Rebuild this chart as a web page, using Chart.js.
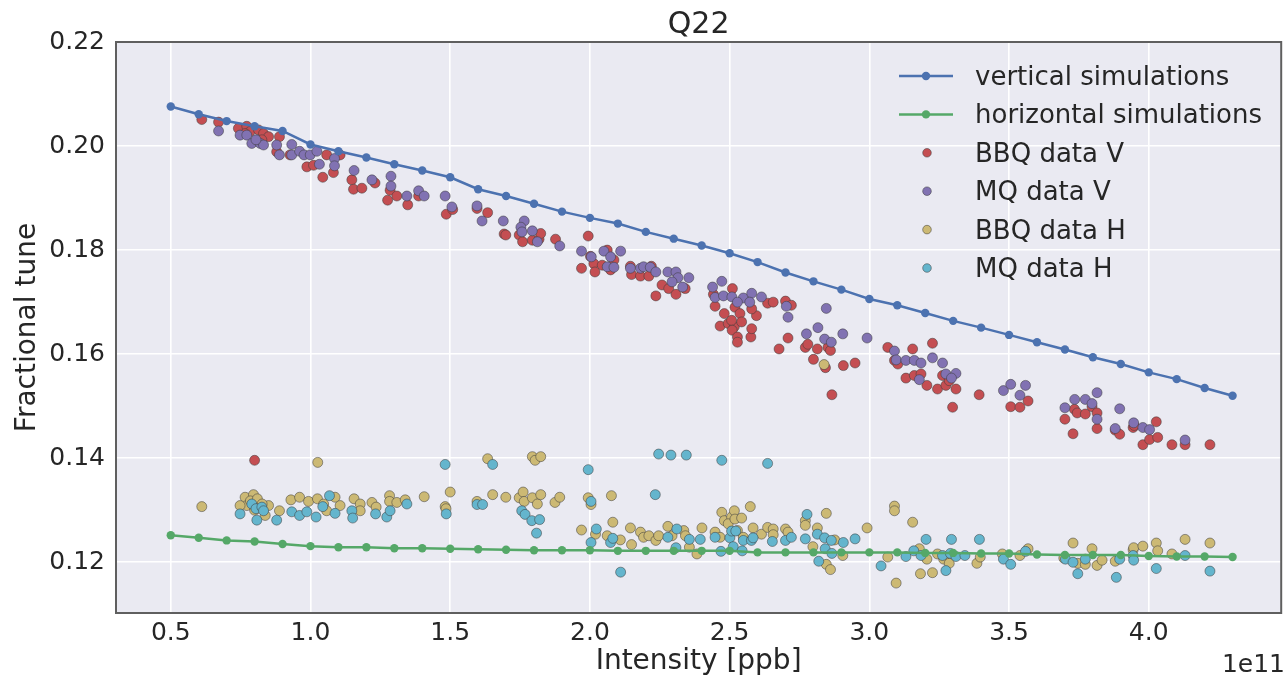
<!DOCTYPE html>
<html lang="en">
<head>
    <meta charset="UTF-8">
    <title>Q22 tune vs intensity</title>
    <script src="https://cdn.jsdelivr.net/npm/chart.js"></script>
    <style>
      body { margin: 0; background: #fff; }
      canvas { display: block; }
    </style>
</head>
<body>
    <canvas id="tuneChart" width="1287" height="679" style="width:1287px;height:679px"></canvas>
    <script>
      // intensity in units of 1e11 ppb
      const simIntensity = [0.5, 0.6, 0.7, 0.8, 0.9, 1.0, 1.1, 1.2, 1.3, 1.4, 1.5, 1.6, 1.7, 1.8, 1.9, 2.0,
        2.1, 2.2, 2.3, 2.4, 2.5, 2.6, 2.7, 2.8, 2.9, 3.0, 3.1, 3.2, 3.3, 3.4, 3.5, 3.6, 3.7, 3.8, 3.9, 4.0,
        4.1, 4.2, 4.3];
      const vertSim = [0.2076, 0.2061, 0.2048, 0.2038, 0.2029, 0.2003, 0.1990, 0.1978, 0.1965, 0.1953, 0.1940,
        0.1917, 0.1904, 0.1889, 0.1874, 0.1862, 0.1851, 0.1835, 0.1822, 0.1809, 0.1794, 0.1777, 0.1757, 0.1740,
        0.1724, 0.1706, 0.1694, 0.1679, 0.1664, 0.1651, 0.1637, 0.1623, 0.1609, 0.1594, 0.1581, 0.1565, 0.1552,
        0.1535, 0.1520];
      const horSim = [0.1252, 0.1247, 0.1242, 0.1240, 0.1235, 0.1231, 0.1229, 0.1229, 0.1227, 0.1227, 0.1226,
        0.1225, 0.1224, 0.1223, 0.1223, 0.1223, 0.1222, 0.1222, 0.1222, 0.1222, 0.1222, 0.1219, 0.1219, 0.1219,
        0.1219, 0.1219, 0.1219, 0.1218, 0.1218, 0.1217, 0.1217, 0.1215, 0.1214, 0.1214, 0.1214, 0.1212, 0.1211,
        0.1211, 0.1210];

      // measured tunes, [intensity, tune]
      const bbqV = [[0.611,0.2051],[0.671,0.2046],[0.742,0.2034],[0.772,0.2038],[0.784,0.2028],[0.814,0.2031],
        [0.832,0.2024],[0.850,0.2018],[0.826,0.2012],[0.766,0.2024],[0.879,0.1989],[0.889,0.2018],[0.927,0.1983],
        [0.987,0.1960],[1.011,0.1963],[1.044,0.1940],[1.058,0.1983],[1.082,0.1949],[1.106,0.1983],[1.148,0.1935],
        [1.154,0.1917],[1.184,0.1919],[1.231,0.1929],[1.276,0.1896],[1.285,0.1915],[1.309,0.1904],[1.348,0.1887],
        [1.387,0.1904],[1.486,0.1869],[1.509,0.1878],[1.596,0.1880],[1.634,0.1872],[1.693,0.1831],[1.699,0.1829],
        [1.747,0.1829],[1.759,0.1816],[1.794,0.1819],[1.818,0.1821],[1.824,0.1832],[1.877,0.1821],[1.994,0.1827],
        [1.970,0.1765],[2.002,0.1788],[2.014,0.1774],[2.018,0.1758],[2.044,0.1771],[2.062,0.1800],[2.074,0.1762],
        [2.086,0.1781],[2.145,0.1769],[2.149,0.1753],[2.181,0.1750],[2.211,0.1750],[2.220,0.1769],[2.258,0.1733],
        [2.282,0.1726],[2.236,0.1712],[2.308,0.1715],[2.341,0.1726],[2.442,0.1715],[2.448,0.1692],[2.481,0.1678],
        [2.510,0.1726],[2.466,0.1654],[2.495,0.1659],[2.517,0.1653],[2.519,0.1690],[2.537,0.1678],[2.507,0.1665],
        [2.543,0.1662],[2.509,0.1646],[2.528,0.1633],[2.528,0.1623],[2.576,0.1633],[2.579,0.1649],[2.596,0.1674],
        [2.579,0.1687],[2.636,0.1698],[2.656,0.1700],[2.700,0.1702],[2.721,0.1694],[2.709,0.1631],[2.677,0.1610],
        [2.771,0.1613],[2.780,0.1619],[2.814,0.1610],[2.852,0.1613],[2.861,0.1607],[2.800,0.1590],[2.843,0.1574],
        [2.907,0.1578],[2.949,0.1583],[2.866,0.1522],[3.066,0.1613],[3.155,0.1610],[3.226,0.1621],[3.090,0.1588],
        [3.102,0.1581],[3.131,0.1554],[3.161,0.1559],[3.185,0.1562],[3.206,0.1540],[3.244,0.1533],[3.262,0.1559],
        [3.274,0.1540],[3.286,0.1549],[3.310,0.1533],[3.298,0.1498],[3.393,0.1522],[3.506,0.1499],[3.539,0.1498],
        [3.568,0.1510],[3.700,0.1475],[3.729,0.1447],[3.734,0.1494],[3.744,0.1487],[3.773,0.1485],[3.797,0.1499],
        [3.815,0.1487],[3.815,0.1457],[3.880,0.1454],[3.896,0.1446],[3.944,0.1459],[3.948,0.1463],[3.979,0.1426],
        [4.003,0.1436],[4.027,0.1470],[4.032,0.1440],[4.083,0.1426],[4.130,0.1426],[4.219,0.1426],[0.800,0.1396]];
      const mqV = [[0.671,0.2029],[0.748,0.2021],[0.772,0.2021],[0.790,0.2005],[0.820,0.2005],[0.832,0.2002],
        [0.805,0.2012],[0.879,0.2002],[0.889,0.1983],[0.933,0.2003],[0.933,0.1983],[0.961,0.1990],[0.977,0.1983],
        [0.999,0.1983],[1.023,0.1990],[1.032,0.1965],[1.086,0.1976],[1.086,0.1962],[1.156,0.1953],[1.220,0.1935],
        [1.288,0.1942],[1.288,0.1923],[1.345,0.1904],[1.387,0.1914],[1.407,0.1904],[1.482,0.1904],[1.506,0.1883],
        [1.596,0.1885],[1.614,0.1856],[1.690,0.1856],[1.765,0.1856],[1.753,0.1844],[1.757,0.1835],[1.794,0.1837],
        [1.812,0.1816],[1.892,0.1808],[1.970,0.1798],[2.005,0.1787],[2.050,0.1798],[2.074,0.1787],[2.110,0.1798],
        [2.062,0.1768],[2.086,0.1767],[2.145,0.1765],[2.181,0.1765],[2.192,0.1768],[2.216,0.1767],[2.236,0.1758],
        [2.279,0.1758],[2.308,0.1758],[2.315,0.1747],[2.294,0.1739],[2.332,0.1729],[2.354,0.1747],[2.439,0.1729],
        [2.472,0.1740],[2.448,0.1709],[2.478,0.1712],[2.508,0.1710],[2.549,0.1708],[2.579,0.1717],[2.614,0.1710],
        [2.528,0.1700],[2.572,0.1700],[2.703,0.1692],[2.709,0.1671],[2.846,0.1688],[2.775,0.1639],[2.816,0.1651],
        [2.840,0.1629],[2.864,0.1623],[2.905,0.1639],[2.992,0.1631],[3.090,0.1606],[3.096,0.1589],[3.131,0.1588],
        [3.161,0.1588],[3.185,0.1583],[3.226,0.1593],[3.262,0.1583],[3.274,0.1562],[3.310,0.1563],[3.294,0.1554],
        [3.179,0.1551],[3.480,0.1530],[3.506,0.1542],[3.539,0.1521],[3.559,0.1540],[3.700,0.1497],[3.735,0.1513],
        [3.773,0.1513],[3.797,0.1505],[3.815,0.1526],[3.815,0.1475],[3.896,0.1495],[3.880,0.1457],[3.946,0.1468],
        [3.979,0.1459],[4.003,0.1455],[4.130,0.1435]];
      const bbqH = [[1.026,0.1392],[0.611,0.1307],[0.766,0.1325],[0.796,0.1330],[0.772,0.1309],[0.748,0.1309],
        [0.850,0.1309],[0.838,0.1290],[0.889,0.1299],[0.930,0.1320],[0.961,0.1325],[0.993,0.1317],[1.025,0.1322],
        [1.047,0.1312],[1.058,0.1299],[1.088,0.1325],[1.106,0.1309],[1.156,0.1322],[1.178,0.1312],[1.178,0.1299],
        [1.220,0.1315],[1.235,0.1306],[1.283,0.1328],[1.283,0.1317],[1.309,0.1315],[1.339,0.1320],[1.407,0.1326],
        [1.482,0.1307],[1.500,0.1335],[0.785,0.1318],[0.810,0.1322],[0.800,0.1300],[0.827,0.1312],[1.485,0.1303],
        [1.596,0.1317],[1.634,0.1399],[1.652,0.1330],[1.699,0.1325],[1.747,0.1324],[1.761,0.1335],[1.765,0.1317],
        [1.794,0.1403],[1.804,0.1396],[1.824,0.1403],[1.794,0.1324],[1.812,0.1312],[1.824,0.1330],[1.875,0.1315],
        [1.892,0.1325],[1.970,0.1262],[1.994,0.1324],[2.004,0.1311],[2.020,0.1254],[2.062,0.1251],[2.077,0.1328],
        [2.082,0.1277],[2.109,0.1243],[2.145,0.1266],[2.149,0.1234],[2.181,0.1258],[2.192,0.1248],[2.211,0.1251],
        [2.236,0.1242],[2.246,0.1251],[2.279,0.1269],[2.294,0.1251],[2.336,0.1261],[2.342,0.1251],[2.356,0.1229],
        [2.383,0.1216],[2.401,0.1266],[2.448,0.1258],[2.466,0.1248],[2.472,0.1296],[2.481,0.1280],[2.507,0.1287],
        [2.517,0.1299],[2.495,0.1274],[2.519,0.1283],[2.543,0.1285],[2.574,0.1307],[2.528,0.1261],[2.549,0.1248],
        [2.584,0.1266],[2.614,0.1254],[2.636,0.1267],[2.656,0.1264],[2.656,0.1253],[2.700,0.1264],[2.709,0.1258],
        [2.771,0.1280],[2.771,0.1271],[2.814,0.1266],[2.846,0.1294],[2.798,0.1230],[2.876,0.1243],[2.905,0.1213],
        [2.846,0.1196],[2.861,0.1186],[2.992,0.1266],[3.090,0.1308],[3.090,0.1299],[3.155,0.1277],[3.066,0.1210],
        [3.179,0.1226],[3.206,0.1206],[3.183,0.1178],[3.226,0.1180],[3.096,0.1160],[3.244,0.1216],[3.266,0.1206],
        [3.286,0.1198],[3.385,0.1198],[3.397,0.1210],[3.476,0.1216],[3.539,0.1213],[2.838,0.1580],[3.568,0.1226],
        [3.696,0.1208],[3.729,0.1237],[3.746,0.1198],[3.773,0.1196],[3.797,0.1226],[3.815,0.1194],[3.833,0.1204],
        [3.880,0.1202],[3.944,0.1224],[3.946,0.1228],[3.979,0.1231],[4.027,0.1237],[4.032,0.1222],[4.083,0.1216],
        [4.130,0.1244],[4.219,0.1237]];
      const mqH = [[0.748,0.1293],[0.790,0.1312],[0.808,0.1281],[0.805,0.1303],[0.826,0.1306],[0.832,0.1299],
        [0.879,0.1281],[0.933,0.1297],[0.961,0.1290],[0.987,0.1297],[1.020,0.1287],[1.044,0.1307],[1.068,0.1328],
        [1.088,0.1294],[1.148,0.1299],[1.151,0.1285],[1.233,0.1293],[1.273,0.1287],[1.285,0.1299],[1.345,0.1312],
        [1.482,0.1388],[1.486,0.1293],[1.596,0.1311],[1.616,0.1311],[1.652,0.1388],[1.756,0.1299],[1.768,0.1292],
        [1.792,0.1280],[1.820,0.1282],[1.809,0.1256],[1.994,0.1378],[2.004,0.1317],[2.023,0.1264],[2.004,0.1238],
        [2.074,0.1238],[2.082,0.1246],[2.110,0.1181],[2.234,0.1330],[2.246,0.1408],[2.290,0.1406],[2.345,0.1406],
        [2.279,0.1248],[2.311,0.1264],[2.308,0.1228],[2.356,0.1244],[2.395,0.1244],[2.472,0.1396],[2.448,0.1248],
        [2.469,0.1221],[2.501,0.1247],[2.507,0.1260],[2.513,0.1230],[2.522,0.1260],[2.636,0.1390],[2.545,0.1222],
        [2.549,0.1242],[2.578,0.1242],[2.584,0.1247],[2.653,0.1240],[2.700,0.1242],[2.721,0.1248],[2.771,0.1245],
        [2.777,0.1292],[2.814,0.1254],[2.840,0.1247],[2.842,0.1226],[2.864,0.1242],[2.866,0.1217],[2.819,0.1202],
        [2.907,0.1238],[2.949,0.1245],[3.042,0.1193],[3.131,0.1211],[3.159,0.1222],[3.203,0.1244],[3.185,0.1213],
        [3.274,0.1184],[3.294,0.1244],[3.262,0.1213],[3.290,0.1217],[3.310,0.1211],[3.342,0.1213],[3.394,0.1244],
        [3.480,0.1206],[3.506,0.1196],[3.559,0.1221],[3.702,0.1206],[3.729,0.1200],[3.746,0.1178],[3.773,0.1206],
        [3.884,0.1171],[3.896,0.1206],[3.944,0.1213],[3.946,0.1204],[4.027,0.1188],[4.130,0.1213],[4.219,0.1183]];

      const xTicks = [0.5, 1.0, 1.5, 2.0, 2.5, 3.0, 3.5, 4.0];
      const yTicks = [0.12, 0.14, 0.16, 0.18, 0.20, 0.22];

      const FONT = 'DejaVu Sans';
      const TEXT = '#262626';

      const toPts = (xs, ys) => xs.map((x, i) => ({x: x, y: ys[i]}));
      const pairs = arr => arr.map(p => ({x: p[0], y: p[1]}));

      function simSet(label, color, ys) {
        return {
          label: label, data: toPts(simIntensity, ys), showLine: true,
          borderColor: color, backgroundColor: color, borderWidth: 2.5,
          pointRadius: 4.2, pointBorderWidth: 0, order: 0
        };
      }
      function dataSet(label, color, pts, order) {
        return {
          label: label, data: pairs(pts), backgroundColor: color,
          borderColor: 'rgba(60,60,60,0.65)', borderWidth: 0.8, pointRadius: 5, order: order
        };
      }

      // axes background, frame, title, offset text and legend
      const decor = {
        id: 'decor',
        beforeDraw(chart) {
          const {ctx, chartArea: a} = chart;
          ctx.save();
          ctx.fillStyle = '#EAEAF2';
          ctx.fillRect(a.left, a.top, a.right - a.left, a.bottom - a.top);
          ctx.restore();
        },
        afterDraw(chart) {
          const {ctx, chartArea: a} = chart;
          ctx.save();
          ctx.strokeStyle = '#5f5f5f';
          ctx.lineWidth = 2;
          ctx.strokeRect(a.left, a.top, a.right - a.left, a.bottom - a.top);

          ctx.fillStyle = TEXT;
          ctx.font = '30px "' + FONT + '"';
          ctx.textAlign = 'center';
          ctx.textBaseline = 'alphabetic';
          ctx.fillText('Q22', (a.left + a.right) / 2, 33);

          ctx.font = '25px "' + FONT + '"';
          ctx.textAlign = 'right';
          ctx.fillText('1e11', 1285, 672);

          // legend
          ctx.font = '26px "' + FONT + '"';
          ctx.textAlign = 'left';
          chart.data.datasets.forEach((ds, i) => {
            const y = 76 + i * 38.4;
            if (ds.showLine) {
              ctx.strokeStyle = ds.borderColor;
              ctx.lineWidth = 2.5;
              ctx.beginPath();
              ctx.moveTo(899, y);
              ctx.lineTo(953, y);
              ctx.stroke();
              ctx.fillStyle = ds.backgroundColor;
              ctx.beginPath();
              ctx.arc(926, y, 4.2, 0, Math.PI * 2);
              ctx.fill();
            } else {
              ctx.fillStyle = ds.backgroundColor;
              ctx.strokeStyle = ds.borderColor;
              ctx.lineWidth = 0.8;
              ctx.beginPath();
              ctx.arc(927, y, 4.3, 0, Math.PI * 2);
              ctx.fill();
              ctx.stroke();
            }
            ctx.fillStyle = TEXT;
            ctx.fillText(ds.label, 975, y + 9);
          });
          ctx.restore();
        }
      };

      new Chart(document.getElementById('tuneChart').getContext('2d'), {
        type: 'scatter',
        data: {
          datasets: [
            simSet('vertical simulations', '#4C72B0', vertSim),
            simSet('horizontal simulations', '#55A868', horSim),
            dataSet('BBQ data V', '#C44E52', bbqV, 4),
            dataSet('MQ data V', '#8172B2', mqV, 3),
            dataSet('BBQ data H', '#CCB974', bbqH, 2),
            dataSet('MQ data H', '#64B5CD', mqH, 1)
          ]
        },
        options: {
          responsive: false,
          animation: false,
          layout: { padding: { top: 42, right: 2, left: 0, bottom: 0 } },
          plugins: { legend: { display: false }, tooltip: { enabled: false } },
          scales: {
            x: {
              type: 'linear', min: 0.304, max: 4.474,
              afterBuildTicks: s => { s.ticks = xTicks.map(v => ({value: v})); },
              afterFit: s => { s.height = 66; },
              grid: { color: '#ffffff', lineWidth: 1.6, drawTicks: false },
              border: { display: false },
              ticks: { autoSkip: false, maxRotation: 0, padding: 5, color: TEXT,
                font: { family: FONT, size: 25 }, callback: v => v.toFixed(1) },
              title: { display: true, text: 'Intensity [ppb]', color: TEXT,
                font: { family: FONT, size: 28 }, padding: 0 }
            },
            y: {
              type: 'linear', min: 0.11025, max: 0.22,
              afterBuildTicks: s => { s.ticks = yTicks.map(v => ({value: v})); },
              afterFit: s => { s.width = 116; },
              grid: { color: '#ffffff', lineWidth: 1.6, drawTicks: false },
              border: { display: false },
              ticks: { autoSkip: false, padding: 11, color: TEXT,
                font: { family: FONT, size: 25 }, callback: v => v.toFixed(2) },
              title: { display: true, text: 'Fractional tune', color: TEXT,
                font: { family: FONT, size: 28 }, padding: { top: 11, bottom: 0 } }
            }
          }
        },
        plugins: [decor]
      });
    </script>
</body>
</html>
